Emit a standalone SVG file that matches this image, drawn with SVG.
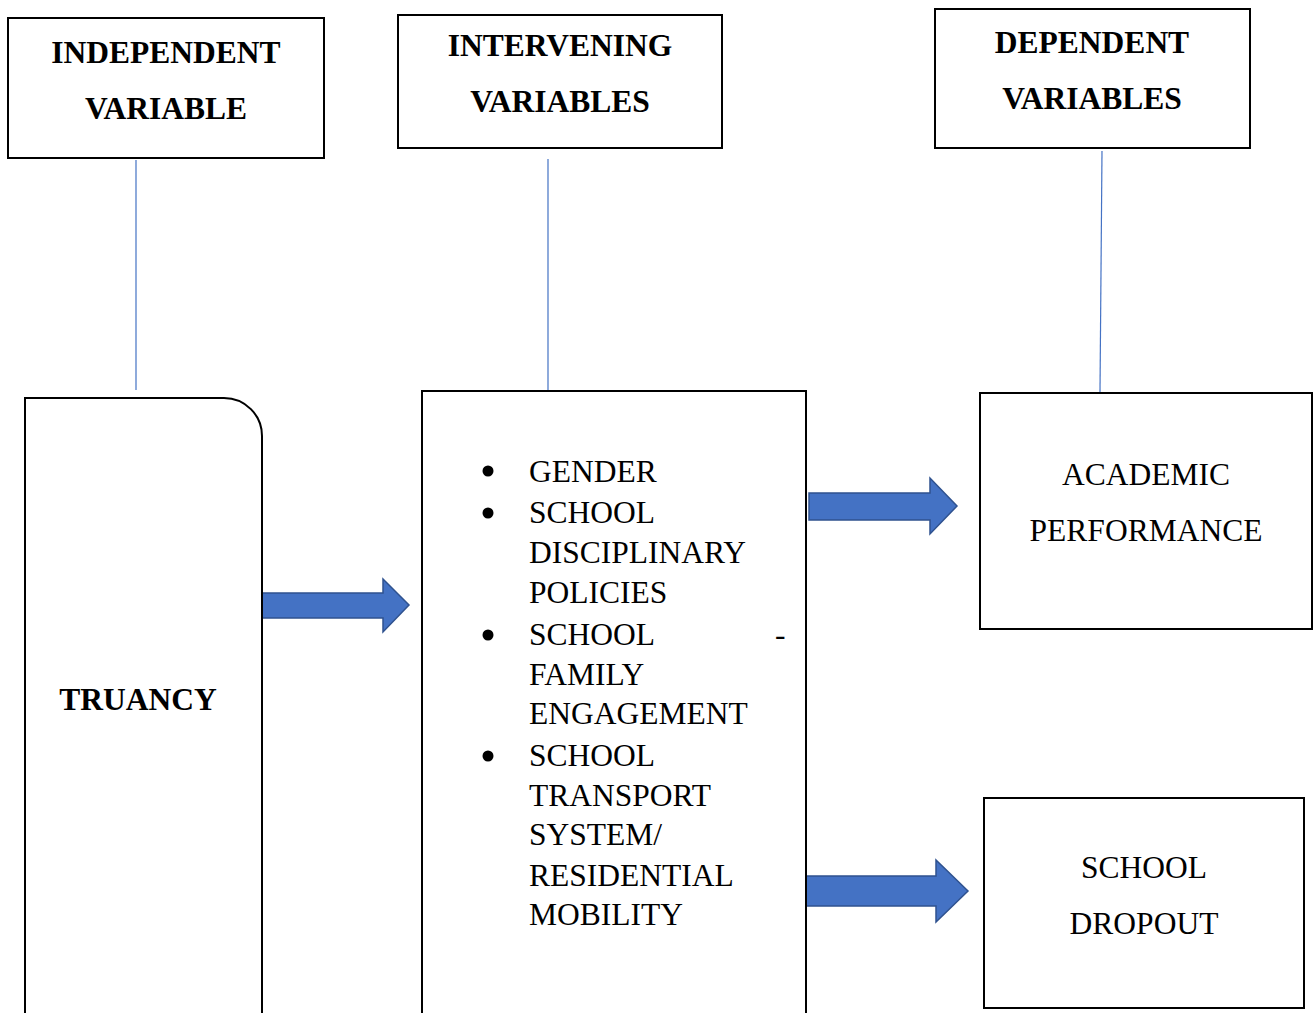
<svg xmlns="http://www.w3.org/2000/svg" width="1314" height="1013" viewBox="0 0 1314 1013">
<style>
.box{fill:#fff;stroke:#000;stroke-width:2}
.h{font-family:"Liberation Serif",serif;font-weight:bold;font-size:31.5px;text-anchor:middle;fill:#000}
.t{font-family:"Liberation Serif",serif;font-size:31.5px;fill:#000}
.c{text-anchor:middle}
.ln{stroke:#4472C4;stroke-width:1.2;fill:none}
.arr{fill:#4472C4;stroke:#2F528F;stroke-width:1.5}
</style>
<rect width="1314" height="1013" fill="#fff"/>
<g id="connectors">
<line class="ln" x1="136" y1="160" x2="136" y2="390"/>
<line class="ln" x1="548" y1="159" x2="548" y2="390"/>
<line class="ln" x1="1102" y1="151" x2="1100" y2="392"/>
<path class="arr" d="M262,593 H383 V579 L409,605 L383,632 V618 H262 Z"/>
<path class="arr" d="M809,493 H930 V478 L957,506 L930,534 V520 H809 Z"/>
<path class="arr" d="M806,876 H936 V860 L968,891 L936,922 V906 H806 Z"/>
</g>
<g id="independent-header">
<rect class="box" x="8" y="18" width="316" height="140"/>
<text class="h" x="166" y="63">INDEPENDENT</text>
<text class="h" x="166" y="119">VARIABLE</text>
</g>
<g id="intervening-header">
<rect class="box" x="398" y="15" width="324" height="133"/>
<text class="h" x="560" y="56">INTERVENING</text>
<text class="h" x="560" y="112">VARIABLES</text>
</g>
<g id="dependent-header">
<rect class="box" x="935" y="9" width="315" height="139"/>
<text class="h" x="1092" y="53">DEPENDENT</text>
<text class="h" x="1092" y="109">VARIABLES</text>
</g>
<g id="truancy">
<path class="box" d="M25,1020 V398 H224 A38,38 0 0 1 262,436 V1020"/>
<text class="h" x="138" y="710">TRUANCY</text>
</g>
<g id="intervening">
<path class="box" d="M422,1020 V391 H806 V1020"/>
<circle cx="488" cy="471" r="5.5"/>
<circle cx="488" cy="513" r="5.5"/>
<circle cx="488" cy="635" r="5.5"/>
<circle cx="488" cy="756" r="5.5"/>
<text class="t" x="529" y="482">GENDER</text>
<text class="t" x="529" y="523">SCHOOL</text>
<text class="t" x="529" y="563">DISCIPLINARY</text>
<text class="t" x="529" y="603">POLICIES</text>
<text class="t" x="529" y="645">SCHOOL</text>
<text class="t" x="775" y="645">-</text>
<text class="t" x="529" y="685">FAMILY</text>
<text class="t" x="529" y="724">ENGAGEMENT</text>
<text class="t" x="529" y="766">SCHOOL</text>
<text class="t" x="529" y="806">TRANSPORT</text>
<text class="t" x="529" y="845">SYSTEM/</text>
<text class="t" x="529" y="886">RESIDENTIAL</text>
<text class="t" x="529" y="925">MOBILITY</text>
</g>
<g id="academic">
<rect class="box" x="980" y="393" width="332" height="236"/>
<text class="t c" x="1146" y="485">ACADEMIC</text>
<text class="t c" x="1146" y="541">PERFORMANCE</text>
</g>
<g id="dropout">
<rect class="box" x="984" y="798" width="320" height="210"/>
<text class="t c" x="1144" y="878">SCHOOL</text>
<text class="t c" x="1144" y="934">DROPOUT</text>
</g>
</svg>
